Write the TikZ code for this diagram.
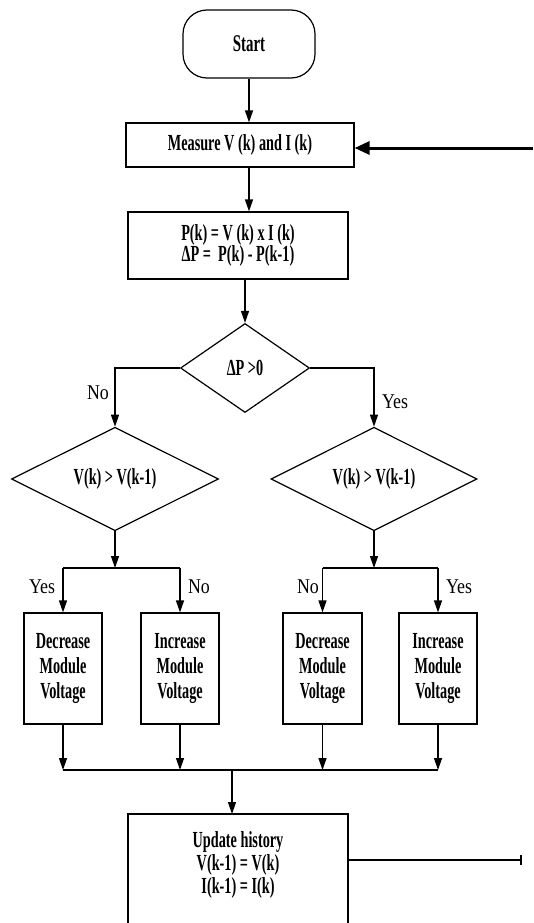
\documentclass[tikz,border=0pt]{standalone}
\usepackage{fontspec}
\setmainfont{Liberation Serif}
\newfontfamily\boxfont[FakeStretch=0.62]{Liberation Serif}
\newfontfamily\labfont[FakeStretch=0.85]{Liberation Serif}
\usetikzlibrary{shapes.geometric,arrows.meta}
\tikzset{
  proc/.style={draw, line width=1.2pt, fill=white, inner sep=2pt, align=center,
    font=\boxfont\bfseries\fontsize{23}{25}\selectfont},
  dec/.style={diamond, draw, line width=1.2pt, inner sep=0pt, align=center,
    font=\boxfont\bfseries\fontsize{23}{25}\selectfont},
  txt/.style={align=center, inner sep=1pt, font=\boxfont\bfseries\fontsize{23}{23}\selectfont},
  lab/.style={inner sep=1pt, font=\labfont\fontsize{21}{22}\selectfont},
  ln/.style={line width=1.3pt},
  arr/.style={ln, -{Triangle[length=12pt,width=8pt]}},
}
\begin{document}
\begin{tikzpicture}[x=1pt,y=-1pt]
\useasboundingbox (0,0) rectangle (533,923);
\fill[white] (0,0) rectangle (533,923);
\clip (0,0) rectangle (533,923);

% nodes
\node[proc, rounded corners=24pt, minimum width=132pt, minimum height=68pt,
      font=\boxfont\bfseries\fontsize{24}{25}\selectfont] (start) at (249,44) {Start};
\node[proc, minimum width=228pt, minimum height=44pt] (meas) at (240,145) {Measure V (k) and I (k)};
\node[proc, minimum width=220pt, minimum height=67pt, font=\boxfont\bfseries\fontsize{23}{20}\selectfont]
      (pow) at (238,245.5) {P(k) = V (k) x I (k)\\ ΔP = \ P(k) - P(k-1)};
\node[dec, minimum width=129pt, minimum height=89pt] (d0) at (245,368) {ΔP >0};
\node[dec, minimum width=207pt, minimum height=88pt] (dl) at (115,479) {V(k) > V(k-1)};
\node[dec, minimum width=206pt, minimum height=88pt] (dr) at (374,479) {V(k) > V(k-1)};

\node[proc, minimum width=78pt, minimum height=111pt] (b1) at (63,668.5) {Decrease\\Module\\Voltage};
\node[proc, minimum width=78pt, minimum height=111pt] (b2) at (180,668.5) {Increase\\Module\\Voltage};
\node[proc, minimum width=79pt, minimum height=111pt] (b3) at (322.5,668.5) {Decrease\\Module\\Voltage};
\node[proc, minimum width=78pt, minimum height=111pt] (b4) at (438,668.5) {Increase\\Module\\Voltage};

\node[draw, line width=1.2pt, minimum width=220pt, minimum height=150pt, anchor=north] (upd) at (238,814) {};
\draw[line width=2.6pt] (upd.north west) -- (upd.north east);
\node[txt] (updtxt) at (238,865) {Update history\\V(k-1) = V(k)\\I(k-1) = I(k)};

% labels
\node[lab] (no1) at (98,393) {No};
\node[lab] (yes1) at (395,402) {Yes};
\node[lab] (yes2) at (42,587) {Yes};
\node[lab] (no2) at (199,587) {No};
\node[lab] (no3) at (308,587) {No};
\node[lab] (yes3) at (459,587) {Yes};

% helper coordinates
\coordinate (jl) at (115,568);
\coordinate (jr) at (374,568);
\coordinate (jb) at (232,770);
\coordinate (fb) at (533,148);
\coordinate (exit) at (522,860);

% connectors
\draw[arr] (start.south) -- (start.south |- meas.north);
\draw[arr] (start.south |- meas.south) -- (start.south |- pow.north);
\draw[arr] (d0.north |- pow.south) -- (d0.north);
\draw[arr] (d0.west) -- (d0.west -| dl.north) -- (dl.north);
\draw[arr] (d0.east) -- (d0.east -| dr.north) -- (dr.north);

\draw[arr] (dl.south) -- (jl);
\draw[arr] (dr.south) -- (jr);
\draw[ln] (b1.north |- jl) -- (b2.north |- jl);
\draw[ln] (b3.north |- jr) -- (b4.north |- jr);
\draw[arr] (b1.north |- jl) -- (b1.north);
\draw[arr] (b2.north |- jl) -- (b2.north);
\draw[arr] (b3.north |- jr) -- (b3.north);
\draw[arr] (b4.north |- jr) -- (b4.north);

\draw[arr] (b1.south) -- (b1.south |- jb);
\draw[arr] (b2.south) -- (b2.south |- jb);
\draw[arr] (b3.south) -- (b3.south |- jb);
\draw[arr] (b4.south) -- (b4.south |- jb);
\draw[ln] (b1.south |- jb) -- (b4.south |- jb);
\draw[arr] (jb) -- (jb |- upd.north);

\draw[line width=3pt, -{Triangle[length=15pt,width=13pt]}] (fb) -- (fb -| meas.east);
\draw[ln, -{Bar[width=10pt,line width=2pt]}] (upd.east |- exit) -- (exit);
\end{tikzpicture}
\end{document}
